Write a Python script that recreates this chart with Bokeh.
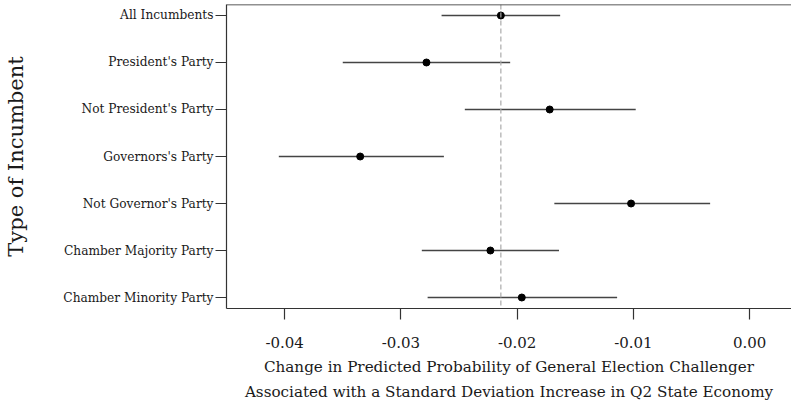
from bokeh.plotting import figure
from bokeh.models import Range1d, FixedTicker, Span, NumeralTickFormatter, Title
from bokeh.embed import file_html
from bokeh.resources import INLINE

categories = ["All Incumbents", "President's Party", "Not President's Party",
              "Governors's Party", "Not Governor's Party",
              "Chamber Majority Party", "Chamber Minority Party"]
estimates = [-0.0214, -0.0278, -0.0172, -0.0335, -0.0102, -0.0223, -0.0196]
lower = [-0.0265, -0.0350, -0.0245, -0.0405, -0.0168, -0.0282, -0.0277]
upper = [-0.0163, -0.0206, -0.0098, -0.0263, -0.0034, -0.0164, -0.0114]
reference_line = -0.0214
x_ticks = [-0.04, -0.03, -0.02, -0.01, 0.0]
x_title_lines = ["Change in Predicted Probability of General Election Challenger",
                 "Associated with a Standard Deviation Increase in Q2 State Economy"]
y_title = "Type of Incumbent"

positions = list(range(1, len(categories) + 1))
FONT = "DejaVu Serif"
TXT = "#1a1a1a"

y_top = 0.766
p = figure(width=791, height=402,
           x_range=Range1d(-0.045, 0.0036), y_range=Range1d(7.234, y_top),
           output_backend="svg", toolbar_location=None,
           min_border_left=226, min_border_right=0, min_border_top=4,
           min_border_bottom=94)
p.outline_line_color = None
p.grid.visible = False
p.background_fill_color = "white"
p.border_fill_color = "white"

p.segment(x0=lower, y0=positions, x1=upper, y1=positions,
          line_color="#444444", line_width=1.4)
p.scatter(x=estimates, y=positions, size=7, fill_color="black", line_color="black")

p.add_layout(Span(location=reference_line, dimension="height",
                  line_color="#aaaaaa", line_dash="5 3", line_width=1.2))
p.add_layout(Span(location=y_top, dimension="width",
                  line_color="#222222", line_width=1.4))

xa = p.xaxis[0]
xa.ticker = FixedTicker(ticks=x_ticks)
xa.formatter = NumeralTickFormatter(format="0.00")
xa.major_tick_out = 11
xa.major_tick_in = 0
xa.minor_tick_out = 0
xa.minor_tick_in = 0
xa.axis_line_color = "#333333"
xa.axis_line_width = 1.2
xa.major_tick_line_color = "#333333"
xa.major_tick_line_width = 1.2
xa.major_label_text_font = FONT
xa.major_label_text_font_size = "15px"
xa.major_label_text_color = TXT
xa.major_label_standoff = 17

for line, gap in zip(x_title_lines, [10, 0]):
    p.add_layout(Title(text=line, align="center", offset=8,
                       text_font=FONT, text_font_size="15.2px",
                       text_font_style="normal", text_color=TXT,
                       standoff=gap), "below")

ya = p.yaxis[0]
ya.ticker = FixedTicker(ticks=positions)
ya.major_label_overrides = {pos: cat for pos, cat in zip(positions, categories)}
ya.major_tick_out = 11
ya.major_tick_in = 0
ya.minor_tick_out = 0
ya.minor_tick_in = 0
ya.axis_line_color = "#333333"
ya.axis_line_width = 1.2
ya.major_tick_line_color = "#333333"
ya.major_tick_line_width = 1.2
ya.major_label_text_font = FONT
ya.major_label_text_font_size = "12.2px"
ya.major_label_text_color = TXT
ya.major_label_standoff = 2
ya.axis_label = y_title
ya.axis_label_text_font = FONT
ya.axis_label_text_font_size = "21px"
ya.axis_label_text_font_style = "normal"
ya.axis_label_text_color = TXT
ya.axis_label_standoff = 32

open("out.html", "w").write(file_html(p, INLINE))
